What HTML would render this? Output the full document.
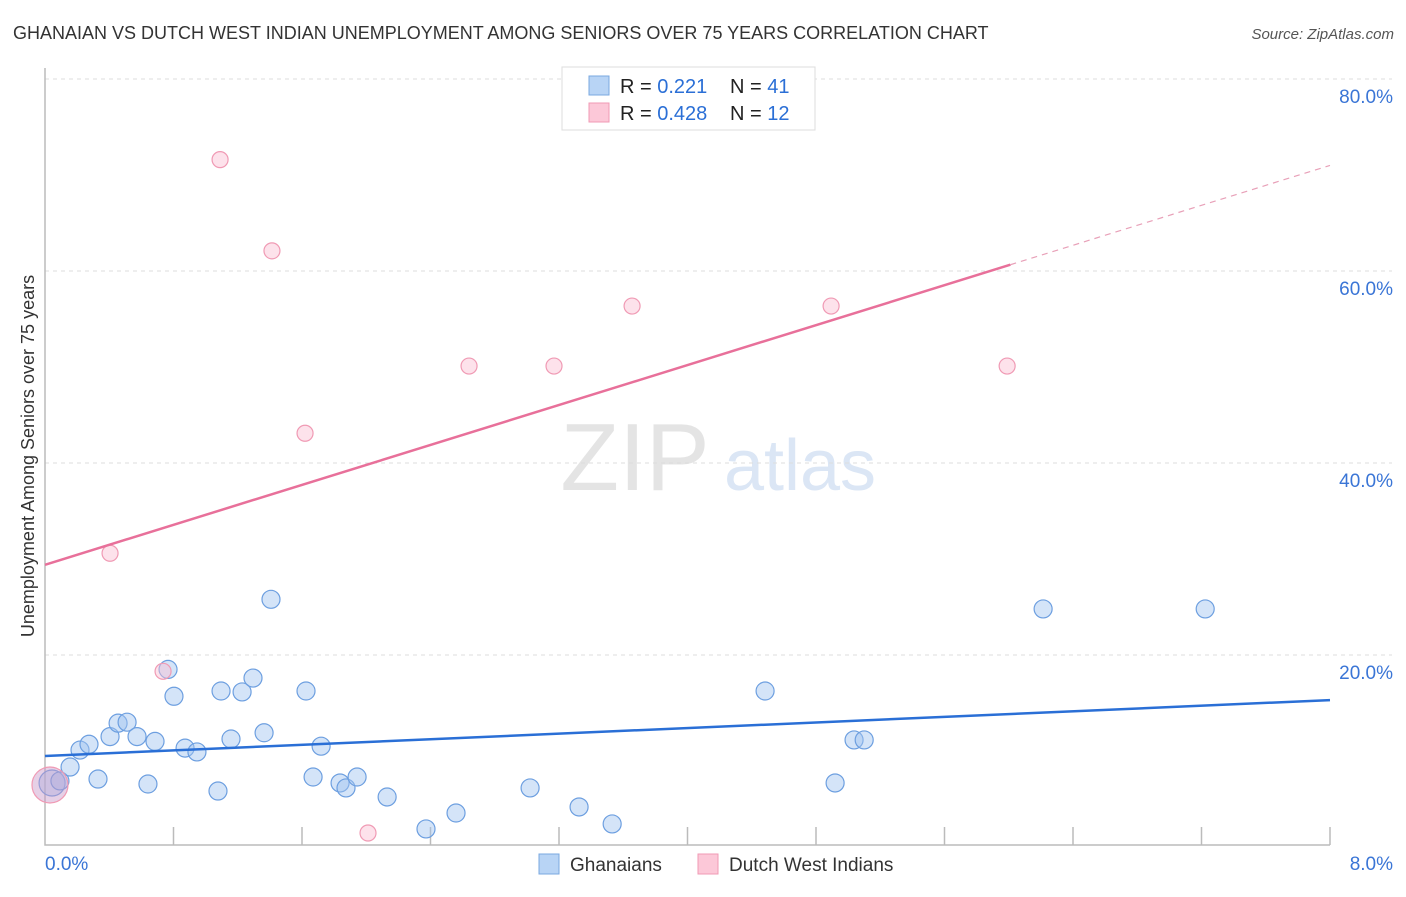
<!DOCTYPE html>
<html><head><meta charset="utf-8"><style>
body{margin:0;background:#fff;font-family:"Liberation Sans",sans-serif}
svg text{font-family:"Liberation Sans",sans-serif}
</style></head><body>
<svg id="c" width="1406" height="892">
<text x="13" y="39" font-size="18" fill="#333">GHANAIAN VS DUTCH WEST INDIAN UNEMPLOYMENT AMONG SENIORS OVER 75 YEARS CORRELATION CHART</text>
<text x="1394" y="39" font-size="15" fill="#555" text-anchor="end" font-style="italic">Source: ZipAtlas.com</text>
<text x="34" y="456" font-size="18" fill="#333" text-anchor="middle" transform="rotate(-90 34 456)">Unemployment Among Seniors over 75 years</text>
<g><text x="635" y="490" font-size="96" fill="#e4e4e4" text-anchor="middle" font-family="Liberation Serif">ZIP</text><text x="800" y="490" font-size="72" fill="#dbe6f5" text-anchor="middle">atlas</text></g>
<g id="grid"></g><g id="marks"></g>
<g>
<rect x="562" y="67" width="253" height="63" fill="#fff" stroke="#ddd"/>
<rect x="589" y="76" width="20" height="19" fill="#b8d4f5" stroke="#7aa8e0"/>
<rect x="589" y="103" width="20" height="19" fill="#fcc8d8" stroke="#f09ab4"/>
<text x="620" y="93" font-size="20" fill="#222">R = <tspan fill="#2b6fd6"> 0.221</tspan><tspan x="730">N = </tspan><tspan fill="#2b6fd6">41</tspan></text>
<text x="620" y="120" font-size="20" fill="#222">R = <tspan fill="#2b6fd6">0.428</tspan><tspan x="730">N = </tspan><tspan fill="#2b6fd6">12</tspan></text>
</g>
<g>
<rect x="539" y="854" width="20" height="20" fill="#b8d4f5" stroke="#7aa8e0"/>
<text x="570" y="871" font-size="19" fill="#333">Ghanaians</text>
<rect x="698" y="854" width="20" height="20" fill="#fcc8d8" stroke="#f09ab4"/>
<text x="729" y="871" font-size="19" fill="#333">Dutch West Indians</text>
</g>
</svg>
<script>
const yTicks=[20,40,60,80];
const yTickLabels=["20.0%","40.0%","60.0%","80.0%"];
const blueX=[0.044,0.093,0.156,0.218,0.274,0.330,0.405,0.455,0.511,0.573,0.641,0.685,0.766,0.803,0.872,0.946,1.077,1.096,1.158,1.227,1.295,1.364,1.407,1.625,1.669,1.719,1.837,1.874,1.943,2.130,2.372,2.559,3.020,3.325,3.531,4.483,4.919,5.037,5.100,6.214,7.223];
const blueY=[6.67,6.88,8.33,10.1,10.7,7.08,11.5,12.9,13.0,11.5,6.56,11.0,18.5,15.7,10.3,9.9,5.83,16.25,11.25,16.15,17.6,11.9,25.8,16.25,7.29,10.5,6.67,6.15,7.29,5.21,1.88,3.54,6.15,4.17,2.40,16.25,6.67,11.15,11.15,24.8,24.8];
const pinkX=[0.031,0.405,0.735,1.090,1.413,1.619,2.011,2.640,3.169,3.655,4.894,5.990];
const pinkY=[6.46,30.6,18.3,71.6,62.1,43.1,1.46,50.1,50.1,56.35,56.35,50.1];
const blueTrend=[9.48,15.3];
const pinkTrend=[29.4,71.0];
const pinkSolidEnd=6.01;
const NS='http://www.w3.org/2000/svg';
const X0=45,X1=1330,Y0=847,PY=9.6;
const xs=v=>X0+(X1-X0)*v/8, ys=v=>Y0-v*PY;
function mk(t,a,p){const e=document.createElementNS(NS,t);for(const k in a)e.setAttribute(k,a[k]);p.appendChild(e);return e;}
const g=document.getElementById('grid'),m=document.getElementById('marks');
yTicks.forEach((t,i)=>{
 const l=mk('line',{x1:X0,x2:1392,y1:ys(t),y2:ys(t),stroke:'#ddd','stroke-dasharray':'4,4'},g);
 
 
 const tx=mk('text',{x:1393,y:ys(t)+24,'font-size':19,fill:'#3a75d6','text-anchor':'end'},g);
 tx.textContent=yTickLabels[i];
 
 
});
const ax=mk('path',{d:`M${X0} 68V845H${X1}`,fill:'none',stroke:'#bbb','stroke-width':1.5},g);


for(let i=1;i<=10;i++){const t=mk('line',{x1:xs(i*0.8),x2:xs(i*0.8),y1:827,y2:845,stroke:'#bbb','stroke-width':1.5},g);
 
 }
[[ '0.0%',45,'start'],['8.0%',1393,'end']].forEach(a=>{const t=mk('text',{x:a[1],y:870,'font-size':19,fill:'#3a75d6','text-anchor':a[2]},g);t.textContent=a[0];
 
 });
blueX.forEach((x,i)=>{const c=mk('circle',{cx:xs(x),cy:ys(blueY[i]),r:i==0?13:9,fill:'rgba(160,196,240,0.45)',stroke:'#6d9fe0','stroke-width':1.2},m);
 
 });
pinkX.forEach((x,i)=>{const c=mk('circle',{cx:xs(x),cy:ys(pinkY[i]),r:i==0?18:8,fill:i==0?'rgba(200,150,200,0.45)':'rgba(250,190,210,0.45)',stroke:'#f09ab4','stroke-width':1.2},m);
 
 });
const bl=mk('line',{x1:xs(0),y1:ys(blueTrend[0]),x2:xs(8),y2:ys(blueTrend[1]),stroke:'#2a6fd6','stroke-width':2.5},m);


const pAt=v=>pinkTrend[0]+(pinkTrend[1]-pinkTrend[0])*v/8;
const pl=mk('line',{x1:xs(0),y1:ys(pinkTrend[0]),x2:xs(pinkSolidEnd),y2:ys(pAt(pinkSolidEnd)),stroke:'#e8709a','stroke-width':2.5},m);


const pd=mk('line',{x1:xs(pinkSolidEnd),y1:ys(pAt(pinkSolidEnd)),x2:xs(8),y2:ys(pinkTrend[1]),stroke:'#e8a0b8','stroke-width':1.2,'stroke-dasharray':'6,5'},m);


</script>
</body></html>
